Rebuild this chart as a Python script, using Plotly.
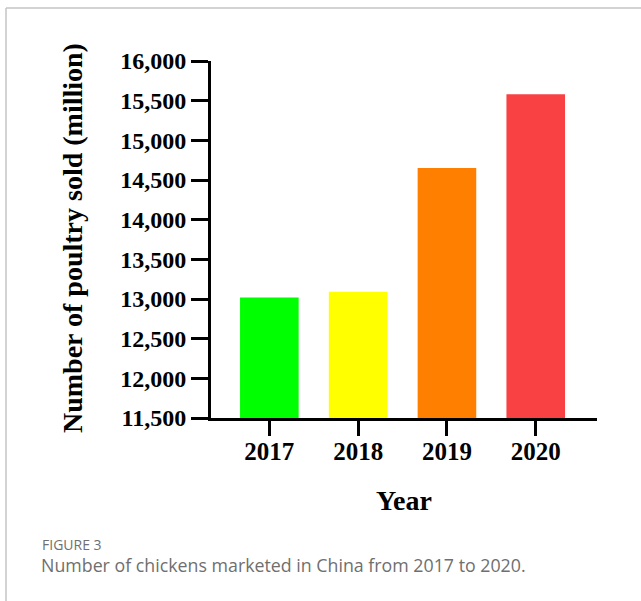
import plotly.graph_objects as go

years = ["2017", "2018", "2019", "2020"]
sold_million = [13020, 13090, 14650, 15580]
bar_colors = ["#00FF00", "#FFFF00", "#FF8000", "#F94144"]
y_ticks = [11500, 12000, 12500, 13000, 13500, 14000, 14500, 15000, 15500, 16000]
y_tick_text = [f"{v:,}" for v in y_ticks]

W, H = 641, 601
L, R, T, B = 211, 597, 61, 418
pw, ph = R - L, B - T

def px(x):
    return (x - L) / pw

def py(y):
    return (B - y) / ph

serif = "Liberation Serif, Times New Roman, serif"
sans = "Open Sans, Noto Sans, sans-serif"

fig = go.Figure(go.Bar(
    x=list(range(len(years))), y=sold_million, marker_color=bar_colors,
    marker_line_width=0, width=0.66,
))

fig.update_layout(
    width=W, height=H,
    margin=dict(l=L, r=W - R, t=T, b=H - B, pad=0),
    paper_bgcolor="white", plot_bgcolor="white",
    showlegend=False,
    xaxis=dict(
        range=[-0.657, 3.69], tickmode="array",
        tickvals=list(range(len(years))), ticktext=years,
        showgrid=False, zeroline=False,
        showline=True, linecolor="black", linewidth=3,
        ticks="outside", ticklen=15, tickwidth=3, tickcolor="black",
        ticklabelstandoff=-6,
        tickfont=dict(family=serif, size=25, color="black", weight="bold"),
    ),
    yaxis=dict(
        range=[11500, 16000], tickmode="array",
        tickvals=y_ticks, ticktext=y_tick_text,
        showgrid=False, zeroline=False,
        showline=True, linecolor="black", linewidth=3,
        ticks="outside", ticklen=17, tickwidth=3, tickcolor="black",
        tickfont=dict(family=serif, size=24, color="black", weight="bold"),
    ),
    annotations=[
        dict(text="Year", x=px(404), y=py(500), xref="paper", yref="paper",
             showarrow=False, xanchor="center", yanchor="middle",
             font=dict(family=serif, size=28, color="black", weight="bold")),
        dict(text="Number of poultry sold (million)", x=px(72), y=py(238),
             xref="paper", yref="paper", textangle=-90,
             showarrow=False, xanchor="center", yanchor="middle",
             font=dict(family=serif, size=28, color="black", weight="bold")),
        dict(text="FIGURE 3", x=px(40), y=py(544), xref="paper", yref="paper",
             showarrow=False, xanchor="left", yanchor="middle",
             font=dict(family=sans, size=14, color="#6f6f6f")),
        dict(text="Number of chickens marketed in China from 2017 to 2020.",
             x=px(39), y=py(565), xref="paper", yref="paper",
             showarrow=False, xanchor="left", yanchor="middle",
             font=dict(family=sans, size=17.8, color="#6f6f6f")),
    ],
    shapes=[
        dict(type="line", xref="paper", yref="paper",
             x0=px(6), x1=px(650), y0=py(8), y1=py(8),
             line=dict(color="#c4c4c4", width=1.5)),
        dict(type="line", xref="paper", yref="paper",
             x0=px(6), x1=px(6), y0=py(8), y1=py(610),
             line=dict(color="#c4c4c4", width=1.5)),
    ],
)

fig.write_html(
    "out.html",
    config={"displayModeBar": False},
    post_script="document.body.style.margin='0';document.body.style.padding='0';document.body.style.overflow='hidden';",
)
